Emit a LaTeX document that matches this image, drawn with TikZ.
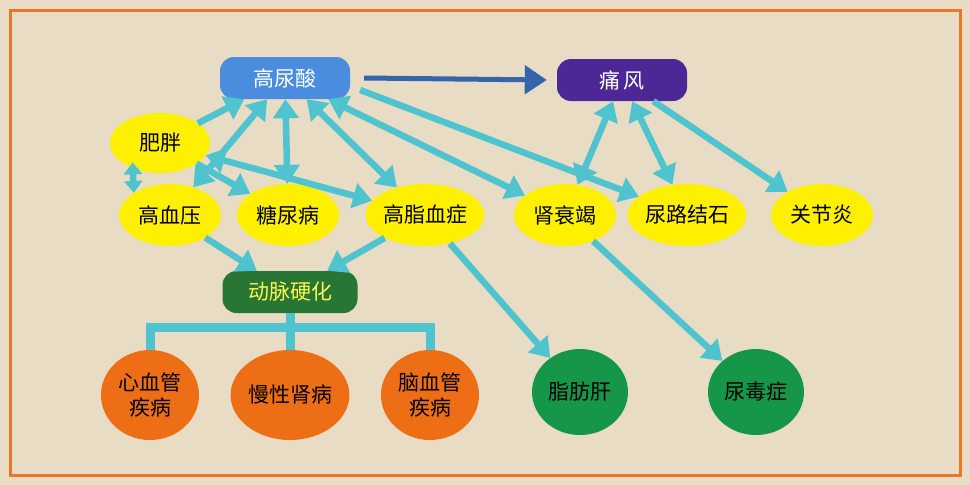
\documentclass[tikz,border=0pt]{standalone}
\usepackage{fontspec}
\newfontfamily\cjk{Noto Sans CJK SC}
\usetikzlibrary{arrows.meta,shapes.geometric}
\definecolor{bg}{RGB}{232,220,196}
\definecolor{frame}{RGB}{232,120,40}
\definecolor{cy}{RGB}{80,196,206}
\definecolor{yel}{RGB}{255,240,0}
\definecolor{blu}{RGB}{74,140,222}
\definecolor{pur}{RGB}{76,40,150}
\definecolor{dgr}{RGB}{40,118,52}
\definecolor{org}{RGB}{238,110,22}
\definecolor{grn}{RGB}{22,150,72}
\definecolor{arr}{RGB}{52,100,170}
\tikzset{
 x=1pt,y=-1pt,
 every node/.style={font=\cjk\fontsize{21}{25}\selectfont},
 rbox/.style={rounded corners=14pt,minimum width=130pt,minimum height=42pt,text=white},
 yell/.style={ellipse,fill=yel,minimum width=102pt,minimum height=62pt,inner sep=0pt},
 circ/.style={ellipse,minimum width=98pt,minimum height=90pt,inner sep=0pt,align=center},
 con/.style={cy,line width=6.5pt},
 tip/.style={-{Triangle[length=19pt,width=25pt]}},
 bi/.style={{Triangle[length=19pt,width=25pt]}-{Triangle[length=19pt,width=25pt]}},
}
\begin{document}
\begin{tikzpicture}
\fill[bg] (0,0) rectangle (970,485);
\draw[frame,line width=3pt] (10,10) rectangle (960,475);
\node[rbox,fill=blu] (gns) at (285,78) {高尿酸};
\node[rbox,fill=pur] (tf) at (622,80) {痛\,风};
\node[yell,minimum width=100pt,minimum height=60pt] (fp) at (160,143) {肥胖};
\node[yell] (gxy) at (170,215) {高血压};
\node[yell] (tnb) at (288,215) {糖尿病};
\node[yell] (gzx) at (425,215) {高脂血症};
\node[yell] (ssj) at (565,215) {肾衰竭};
\node[yell] (nljs) at (687,215) {尿路结石};
\node[yell] (gjy) at (822,215) {关节炎};
\node[rbox,fill=dgr,text=yel!70!white,minimum width=135pt] (dmyh) at (290,292) {动脉硬化};
\node[circ,fill=org] (xxg) at (150,395) {心血管\\疾病};
\node[circ,fill=org] (mxsb) at (290,395) {慢性肾病};
\node[circ,fill=org] (nxg) at (430,395) {脑血管\\疾病};
\node[circ,fill=grn,minimum width=96pt,minimum height=86pt] (zfg) at (580,392) {脂肪肝};
\node[circ,fill=grn,minimum width=96pt,minimum height=86pt] (nbz) at (756,392) {尿毒症};
% connectors
\draw[con,tip] (fp) -- (gns);
\draw[con,bi] (gxy) -- (gns);
\draw[con,bi] (tnb) -- (gns);
\draw[con,bi] (gzx) -- (gns);
\draw[con,tip] (fp) -- (tnb);
\draw[con,bi] (fp) -- (gzx);
\draw[con,{Triangle[length=12pt,width=18pt]}-{Triangle[length=12pt,width=18pt]}] (fp.south west) ++(8,-2) coordinate (a1) (a1) -- (gxy.north west);
\draw[con,bi] (gns) -- (ssj);
\draw[con,tip] (gns.east)++(10,12) coordinate (a2) (a2) -- (nljs);
\draw[arr,line width=5pt,-{Triangle[length=22pt,width=28pt]}] (gns.east)++(14,0) coordinate (a3) (a3) -- ([xshift=-10pt]tf.west);
\draw[con,bi] (ssj) -- (tf);
\draw[con,bi] (nljs) -- (tf);
\draw[con,tip] (tf) -- (gjy);
\draw[con,tip] (gxy) -- (dmyh);
\draw[con,tip] (gzx) -- (dmyh);
\draw[con,tip] (gzx) -- (zfg);
\draw[con,tip] (ssj) -- (nbz);
% tree
\draw[cy,line width=9pt] (dmyh.south) -- ++(0,14) coordinate (t0);
\draw[cy,line width=9pt] (xxg.north) |- (t0) -| (nxg.north);
\draw[cy,line width=9pt] (t0) -- (mxsb.north);
\end{tikzpicture}
\end{document}
